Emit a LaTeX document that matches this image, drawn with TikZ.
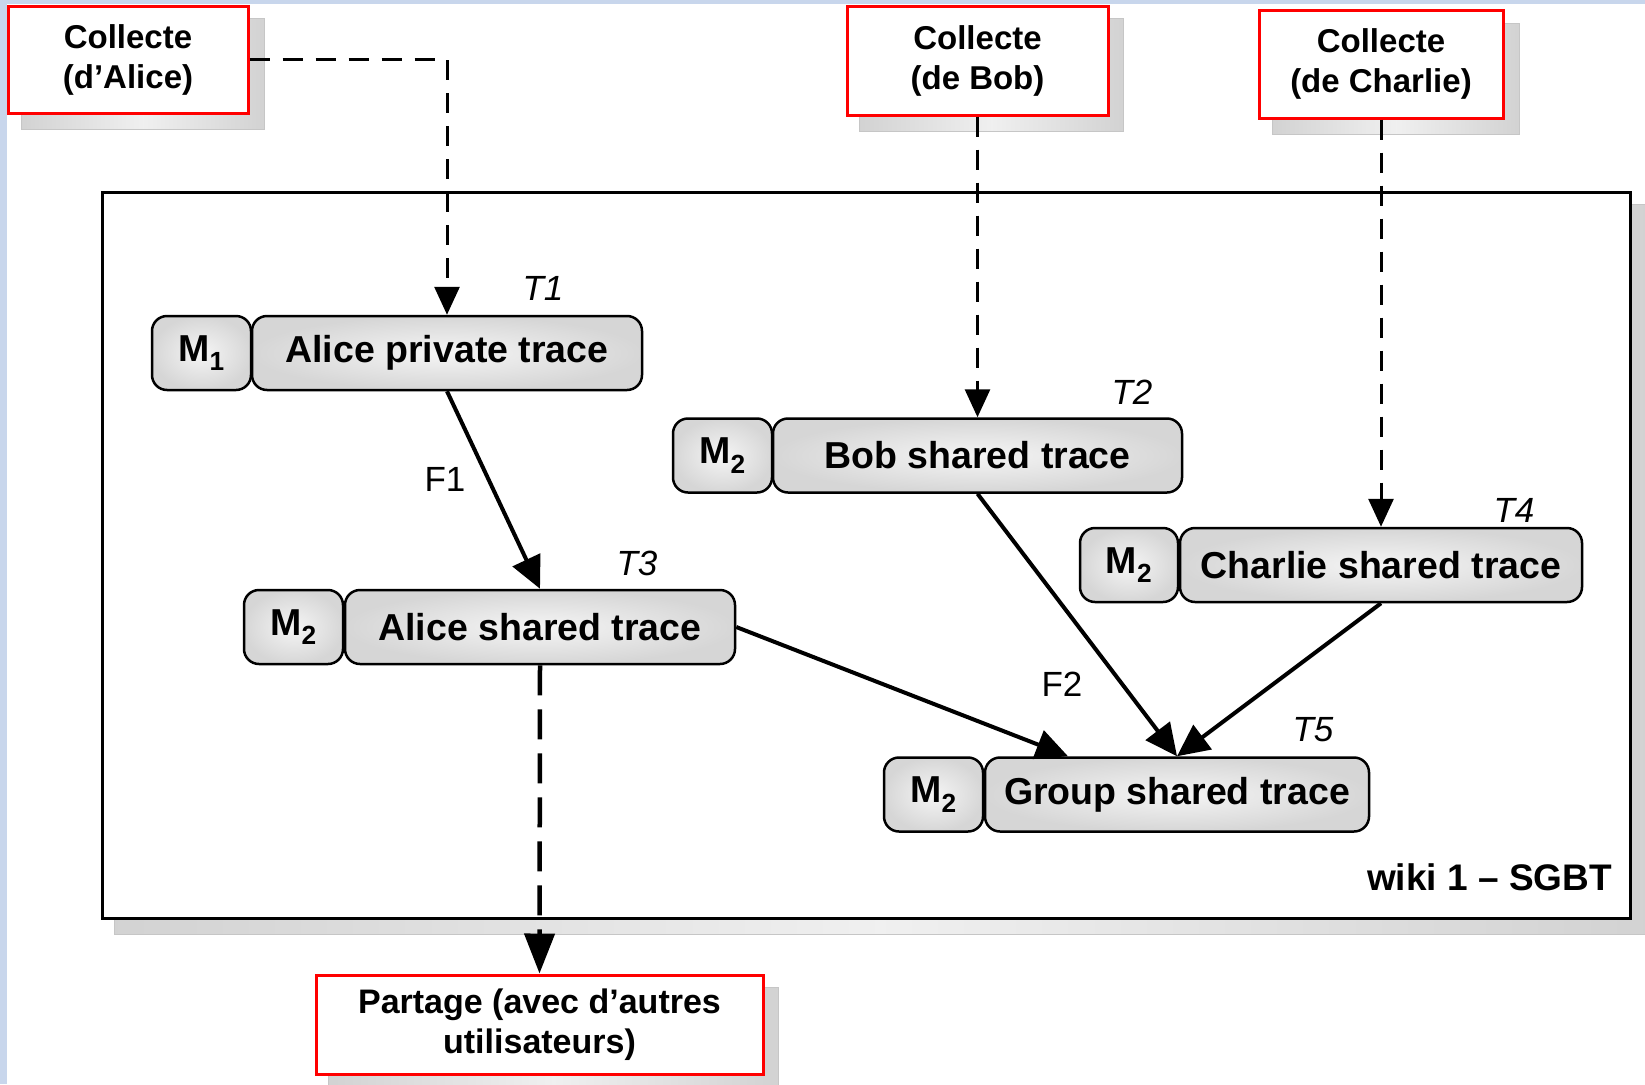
\documentclass[tikz,border=0pt]{standalone}
\usepackage{fontspec}
\setmainfont{Liberation Sans}
\usetikzlibrary{arrows.meta,backgrounds}
\definecolor{edgeblue}{RGB}{200,214,236}
\tikzset{
  collect/.style={draw=red, line width=3pt, fill=white, align=center,
    font=\fontsize{33}{40}\selectfont\bfseries, inner sep=0pt},
  mbox/.style={draw=black, line width=2.5pt, rounded corners=15pt,
    inner color=gray!8, outer color=gray!32, inner sep=0pt,
    minimum height=74pt, font=\fontsize{37.5}{40}\selectfont\bfseries},
  tlabel/.style={font=\fontsize{35}{40}\selectfont\itshape, inner sep=0pt},
  flabel/.style={font=\fontsize{35}{40}\selectfont, inner sep=0pt},
  shadowbox/.style={draw=gray!45, line width=1pt, left color=gray!35,
    right color=gray!35, middle color=gray!12},
  flow/.style={line width=4pt, -{Triangle[length=32pt,width=30pt]}},
  collectline/.style={line width=3pt, dash pattern=on 20pt off 13pt,
    -{Triangle[length=28pt,width=25pt]}},
  shareline/.style={line width=4.5pt, dash pattern=on 30pt off 14pt,
    -{Triangle[length=40pt,width=30pt]}}
}
\begin{document}
\begin{tikzpicture}[x=1pt,y=-1pt]
\useasboundingbox (0,0) rectangle (1645,1084);

% frame
\node[draw=black, line width=3pt, fill=white, minimum width=1528pt,
  minimum height=726pt, inner sep=0pt] (frame) at (866,555) {};
\node[anchor=east, font=\fontsize{37}{40}\selectfont\bfseries, inner sep=0pt]
  (wiki) at (1612,877) {wiki 1 -- SGBT};

% collect boxes
\node[collect, minimum width=240pt, minimum height=107pt] (ca) at (128,59.5)
  {Collecte\\(d’Alice)};
\node[collect, minimum width=261pt, minimum height=109pt] (cb) at (977.5,60.5)
  {Collecte\\(de Bob)};
\node[collect, minimum width=244pt, minimum height=108pt] (cc) at (1381,64)
  {Collecte\\(de Charlie)};
\node[collect, minimum width=447pt, minimum height=99pt,
  font=\fontsize{34}{40}\selectfont\bfseries] (pa) at (539.5,1024.5)
  {Partage (avec d’autres\\utilisateurs)};

% traces
\node[mbox, minimum width=99pt] (m1) at (201.5,353) {M\textsubscript{1}};
\node[mbox, minimum width=390pt] (ap) at (447,353) {Alice private trace};
\node[mbox, minimum width=99pt] (m2) at (722.5,455.5) {M\textsubscript{2}};
\node[mbox, minimum width=409pt] (bs) at (977.5,455.5) {Bob shared trace};
\node[mbox, minimum width=98pt] (m3) at (1129,565) {M\textsubscript{2}};
\node[mbox, minimum width=402pt] (cs) at (1381,565) {Charlie shared trace};
\node[mbox, minimum width=99pt] (m4) at (293.5,627) {M\textsubscript{2}};
\node[mbox, minimum width=390pt] (as) at (540,627) {Alice shared trace};
\node[mbox, minimum width=99pt] (m5) at (933.5,794.5) {M\textsubscript{2}};
\node[mbox, minimum width=384pt] (gs) at (1177,794.5) {Group shared trace};

% labels
\node[tlabel] (t1) at (543,288) {T1};
\node[tlabel] (t2) at (1132,392) {T2};
\node[tlabel] (t3) at (637,563) {T3};
\node[tlabel] (t4) at (1514,510) {T4};
\node[tlabel] (t5) at (1313,730) {T5};
\node[flabel] (f1) at (445,479) {F1};
\node[flabel] (f2) at (1062,684) {F2};

% connectors
\draw[collectline] (ca.east) -| (ap.north);
\draw[collectline] (cb.south) -- (bs.north);
\draw[collectline] (cc.south) -- (cs.north);
\draw[flow] (ap.south) -- (as.north);
\draw[flow] (bs.south) -- (gs.north);
\draw[flow] (cs.south) -- (gs.north);
\draw[flow] (as.east) -- ([xshift=-109pt]gs.north);
\draw[shareline] (as.south) -- (pa.north);

\begin{scope}[on background layer]
  \fill[white] (0,0) rectangle (1645,1084);
  \fill[edgeblue] (0,0) rectangle (1645,4);
  \fill[edgeblue] (0,0) rectangle (7,1084);
  \path[shadowbox] ([shift={(14,14)}]frame.north west) rectangle ([shift={(14,15)}]frame.south east);
  \path[shadowbox] ([shift={(15,14)}]ca.north west) rectangle ([shift={(15,15)}]ca.south east);
  \path[shadowbox] ([shift={(14,14)}]cb.north west) rectangle ([shift={(14,15)}]cb.south east);
  \path[shadowbox] ([shift={(15,15)}]cc.north west) rectangle ([shift={(15,15)}]cc.south east);
  \path[shadowbox] ([shift={(14,14)}]pa.north west) rectangle ([shift={(14,15)}]pa.south east);
\end{scope}
\end{tikzpicture}
\end{document}
